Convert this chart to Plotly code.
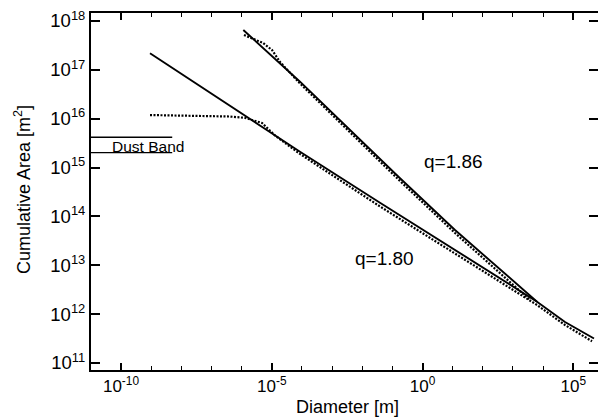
import plotly.graph_objects as go

# ---- data ----
# q = 1.80 model (solid)
d_q180 = [9.16e-10, 8.65e-5, 3.89e-2, 6.28e3, 5.32e4, 4.88e5]
a_q180 = [2.18e17, 2.11e15, 1.91e14, 1.80e12, 6.92e11, 3.18e11]
# q = 1.86 model (solid)
d_q186 = [1.14e-6, 8.65e-5, 1.795e-1, 1.197e1, 6.28e3]
a_q186 = [6.55e17, 5.73e16, 6.04e14, 5.28e13, 1.80e12]
# observed / computed (dotted), lower branch
d_obs1 = [9.16e-10, 4.17e-8, 4.12e-7, 1.30e-6, 4.75e-6, 1.28e-5, 8.65e-5, 3.89e-2, 8.07e1, 6.28e3, 5.32e4, 4.19e5]
a_obs1 = [1.19e16, 1.16e16, 1.11e16, 1.04e16, 8.2e15, 4.54e15, 1.90e15, 1.60e14, 8.28e12, 1.54e12, 6.0e11, 2.79e11]
# dotted, upper branch
d_obs2 = [1.20e-6, 5.13e-6, 1.02e-5, 1.88e-5, 8.65e-5, 1.795e-1, 1.197e1, 3.68e3]
a_obs2 = [5.17e17, 3.55e17, 2.55e17, 1.45e17, 5.26e16, 5.31e14, 4.58e13, 1.95e12]
# dust band limits
dust_d = [1.0e-11, 5.0e-9]
dust_top = [4.17e15, 4.17e15]
dust_bot = [2.02e15, 2.02e15]

x_tickvals = [1e-10, 1e-5, 1e0, 1e5]
x_ticktext = ["10<sup>-10</sup>", "10<sup>-5</sup>", "10<sup>0</sup>", "10<sup>5</sup>"]
x_minor = [1e-9, 1e-8, 1e-7, 1e-6, 1e-4, 1e-3, 1e-2, 1e-1, 1e1, 1e2, 1e3, 1e4]
y_exps = [11, 12, 13, 14, 15, 16, 17, 18]
y_tickvals = [10.0 ** e for e in y_exps]
y_ticktext = ["10<sup>%d</sup>" % e for e in y_exps]

FONT = "Liberation Sans"
dot = "2px,1.5px"

fig = go.Figure()
fig.add_trace(go.Scatter(x=d_obs1, y=a_obs1, mode="lines",
                         line=dict(color="black", width=2.2, dash=dot)))
fig.add_trace(go.Scatter(x=d_obs2, y=a_obs2, mode="lines",
                         line=dict(color="black", width=2.2, dash=dot)))
fig.add_trace(go.Scatter(x=d_q180, y=a_q180, mode="lines",
                         line=dict(color="black", width=1.9)))
fig.add_trace(go.Scatter(x=d_q186, y=a_q186, mode="lines",
                         line=dict(color="black", width=1.9)))
fig.add_trace(go.Scatter(x=dust_d, y=dust_top, mode="lines",
                         line=dict(color="black", width=1.4)))
fig.add_trace(go.Scatter(x=dust_d, y=dust_bot, mode="lines", yaxis="y2",
                         line=dict(color="black", width=1.4)))

yr = [10.857, 18.164]
fig.update_layout(
    width=598, height=417,
    margin=dict(l=91, r=0, t=13, b=47),
    paper_bgcolor="white", plot_bgcolor="white",
    showlegend=False,
    font=dict(family=FONT, color="black"),
    xaxis=dict(type="log", range=[-10.995, 5.821],
               tickvals=x_tickvals, ticktext=x_ticktext,
               ticks="inside", ticklen=7, tickwidth=1.5, tickcolor="black",
               minor=dict(tickvals=x_minor, ticks="inside", ticklen=4,
                          tickwidth=1.2, tickcolor="black", showgrid=False),
               showline=True, linecolor="black", linewidth=2, mirror="ticks",
               showgrid=False, zeroline=False,
               tickfont=dict(family=FONT, size=17, color="black")),
    yaxis=dict(type="log", range=yr,
               tickvals=y_tickvals, ticktext=y_ticktext,
               ticks="inside", ticklen=9, tickwidth=1.5, tickcolor="black",
               showline=True, linecolor="black", linewidth=2,
               showgrid=False, zeroline=False,
               tickfont=dict(family=FONT, size=18.5, color="black")),
    yaxis2=dict(type="log", range=yr, overlaying="y", side="right",
                tickvals=y_tickvals, showticklabels=False,
                ticks="inside", ticklen=9, tickwidth=1.5, tickcolor="black",
                showline=False, showgrid=False, zeroline=False),
)

def px(x):
    return (x - 91) / 507.0

def py(y):
    return (370 - y) / 357.0

annots = [
    dict(text="Dust Band", x=px(147.5), y=py(146), size=15.5, angle=0),
    dict(text="q=1.86", x=px(453), y=py(161.5), size=19, angle=0),
    dict(text="q=1.80", x=px(384), y=py(258), size=19, angle=0),
    dict(text="Diameter [m]", x=px(347.5), y=py(406.5), size=18, angle=0),
    dict(text="Cumulative Area [m<sup>2</sup>]", x=px(22), y=py(190), size=18, angle=-90),
]
for a in annots:
    fig.add_annotation(text=a["text"], x=a["x"], y=a["y"], xref="paper", yref="paper",
                       showarrow=False, xanchor="center", yanchor="middle",
                       textangle=a["angle"],
                       font=dict(family=FONT, size=a["size"], color="black"))

fig.write_html("out.html", config={"displayModeBar": False},
               post_script="document.body.style.margin='0';document.body.style.overflow='hidden';")
